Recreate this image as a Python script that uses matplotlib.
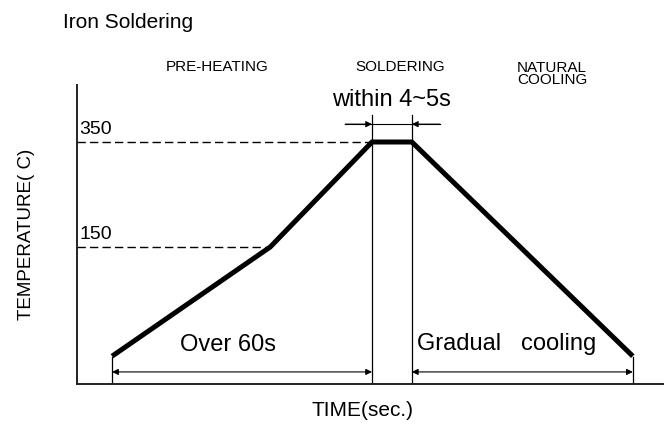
import matplotlib
matplotlib.use('Agg')
import matplotlib.pyplot as plt

plt.rcParams['font.family'] = ['Liberation Sans', 'DejaVu Sans']

# schematic profile (time in s, temperature in C)
tempo = [0, 36.5, 60, 69.2, 120.2]
temp = [-58, 150, 350, 350, -58]
niveis = [150, 350]
niveis_t = [36.5, 60]
rotulos_niveis = ['150', '350']
fases = ['PRE-HEATING', 'SOLDERING', 'NATURAL\nCOOLING']

fig = plt.figure(figsize=(6.64, 4.25), dpi=100)
ax = fig.add_axes([77 / 664, 41 / 425, 587 / 664, 299 / 425])
ax.set_xlim(-8.1, 127.4)
ax.set_ylim(-111, 458.6)

# curva principal
ax.plot(tempo, temp, color='black', lw=3.6, solid_capstyle='butt', solid_joinstyle='miter')

# linhas tracejadas de referencia
for nv, t, lb in zip(niveis, niveis_t, rotulos_niveis):
    ax.plot([-8.1, t], [nv, nv], color='black', lw=1, ls=(0, (6, 3)))
    ax.text(-7.6, nv + 8, lb, fontsize=14, ha='left', va='bottom')

# linhas verticais da soldagem
for t in (tempo[2], tempo[3]):
    ax.plot([t, t], [-111, 401], color='black', lw=0.9)

# cotas superiores (setas de fora para dentro)
seta = dict(arrowstyle='-|>', lw=0.8, color='black', mutation_scale=9, shrinkA=0, shrinkB=0)
ax.plot([53.8, 75.7], [384, 384], color='black', lw=0.8)
ax.annotate('', xy=(tempo[2], 384), xytext=(53.8, 384), arrowprops=seta)
ax.annotate('', xy=(tempo[3], 384), xytext=(75.7, 384), arrowprops=seta)
ax.text((tempo[2] + tempo[3]) / 2, 430, 'within 4~5s', fontsize=17, ha='center', va='center')

# cotas inferiores
seta2 = dict(arrowstyle='<|-|>', lw=0.8, color='black', mutation_scale=9, shrinkA=0, shrinkB=0)
for t in (tempo[0], tempo[4]):
    ax.plot([t, t], [-111, -60], color='black', lw=0.9)
ax.annotate('', xy=(tempo[0], -88), xytext=(tempo[2], -88), arrowprops=seta2)
ax.annotate('', xy=(tempo[3], -88), xytext=(tempo[4], -88), arrowprops=seta2)
ax.text(26.8, -37, 'Over 60s', fontsize=17, ha='center', va='center')
ax.text(70.4, -34, 'Gradual   cooling', fontsize=17, ha='left', va='center')

ax.set_xticks([])
ax.set_yticks([])
for s in ('top', 'right'):
    ax.spines[s].set_visible(False)
for s in ('left', 'bottom'):
    ax.spines[s].set_linewidth(1.4)
    ax.spines[s].set_color('#222222')

fig.text(63 / 664, 1 - 22 / 425, 'Iron Soldering', fontsize=15, ha='left', va='center')
fig.text(217 / 664, 1 - 67 / 425, fases[0], fontsize=11, ha='center', va='center')
fig.text(400 / 664, 1 - 67 / 425, fases[1], fontsize=11, ha='center', va='center')
fig.text(517 / 664, 1 - 74 / 425, fases[2], fontsize=11, ha='left', va='center',
         multialignment='left', linespacing=0.85)
fig.text(27 / 664, 1 - 234 / 425, 'TEMPERATURE( C)', fontsize=13.5, rotation=90, ha='center', va='center')
fig.text(363 / 664, 1 - 410 / 425, 'TIME(sec.)', fontsize=15, ha='center', va='center')

fig.savefig('out.png', dpi=100)
